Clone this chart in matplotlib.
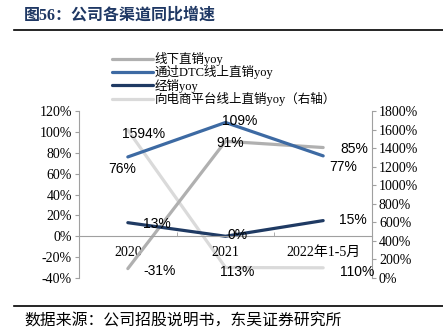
import matplotlib.pyplot as plt
import matplotlib.lines as mlines

# data
years = ['2020', '2021', '2022年1-5月']
offline = [-31, 91, 85]        # 线下直销yoy
dtc = [76, 109, 77]            # 通过DTC线上直销yoy
dealer = [13, 0, 15]           # 经销yoy
ecom = [1594, 113, 110]        # 向电商平台线上直销yoy（右轴）

serif = ['Liberation Serif', 'Noto Sans CJK SC']
sans = ['Liberation Sans', 'Noto Sans CJK SC']

c_off = '#B0B0B0'
c_dtc = '#3D6AA3'
c_dea = '#1F3A63'
c_eco = '#DADADA'

fig = plt.figure(figsize=(4.43, 3.33), dpi=100)
fig.text(24 / 443, 1 - 16 / 333, '图56：公司各渠道同比增速', family=serif,
         fontsize=11.5, fontweight='bold', color='#1F3864', va='center')
fig.add_artist(mlines.Line2D([14 / 443, 1], [1 - 30 / 333] * 2, color='black', lw=1.2))
fig.add_artist(mlines.Line2D([14 / 443, 1], [1 - 306 / 333] * 2, color='black', lw=1.2))
fig.text(24 / 443, 1 - 322 / 333, '数据来源：公司招股说明书，东吴证券研究所', family=serif,
         fontsize=11.4, color='black', va='center')

ax = fig.add_axes([79 / 443, 1 - 278 / 333, (372 - 79) / 443, (278 - 111) / 333])
ax2 = ax.twinx()
x = range(len(years))

for a in (ax, ax2):
    for s in ('top', 'bottom'):
        a.spines[s].set_visible(False)
    a.spines['left'].set_color('#A0A0A0')
    a.spines['right'].set_color('#A0A0A0')
ax.spines['right'].set_visible(False)
ax2.spines['left'].set_visible(False)
ax.spines['bottom'].set_visible(True)
ax.spines['bottom'].set_position(('data', 0))
ax.spines['bottom'].set_color('#A0A0A0')

l4, = ax2.plot(x, ecom, color=c_eco, lw=2.3, solid_capstyle='round')
l1, = ax.plot(x, offline, color=c_off, lw=2.3, solid_capstyle='round')
l2, = ax.plot(x, dtc, color=c_dtc, lw=2.3, solid_capstyle='round')
l3, = ax.plot(x, dealer, color=c_dea, lw=2.3, solid_capstyle='round')
ax.set_zorder(ax2.get_zorder() + 1)
ax.patch.set_visible(False)

ax.set_xlim(-0.5, 2.5)
ax.set_ylim(-40, 120)
ax2.set_ylim(0, 1800)
ax.set_yticks(range(-40, 121, 20))
ax.set_yticklabels([f'{v}%' for v in range(-40, 121, 20)], family=serif, fontsize=10)
ax2.set_yticks(range(0, 1801, 200))
ax2.set_yticklabels([f'{v}%' for v in range(0, 1801, 200)], family=serif, fontsize=10)
ax.set_xticks(list(x))
ax.set_xticklabels(years, family=serif, fontsize=10)
ax.set_xticks([0.5, 1.5], minor=True)
ax.tick_params(axis='x', which='major', length=0, pad=7)
ax.tick_params(axis='x', which='minor', length=3, direction='in', color='#A0A0A0')
ax.tick_params(axis='y', length=3, color='#A0A0A0', pad=2)
ax2.tick_params(axis='y', length=3, color='#A0A0A0', pad=2)

lab = dict(family=sans, fontsize=10, ha='center', va='center', color='black')
ax2.text(0.16, 1594 - 40, '1594%', **lab)
ax.text(-0.06, 64, '76%', **lab)
ax.text(0.32, -33, '-31%', **lab)
ax.text(0.3, 12, '13%', **lab)
ax.text(1.15, 110, '109%', **lab)
ax.text(1.05, 89, '91%', **lab)
ax.text(1.12, 1.5, '0%', **lab)
ax2.text(1.12, 65, '113%', **lab)
ax.text(2.32, 84, '85%', **lab)
ax.text(2.2, 66, '77%', **lab)
ax.text(2.3, 16, '15%', **lab)
ax2.text(2.35, 65, '110%', **lab)

fig.legend([l1, l2, l3, l4], ['线下直销yoy', '通过DTC线上直销yoy', '经销yoy', '向电商平台线上直销yoy（右轴）'],
           loc='upper left', bbox_to_anchor=(112 / 443, 1 - 52 / 333), frameon=False,
           prop={'family': serif, 'size': 9}, handlelength=3.3, handletextpad=0.1,
           labelspacing=-0.05, borderpad=0, borderaxespad=0)

fig.savefig('out.png', dpi=100)
